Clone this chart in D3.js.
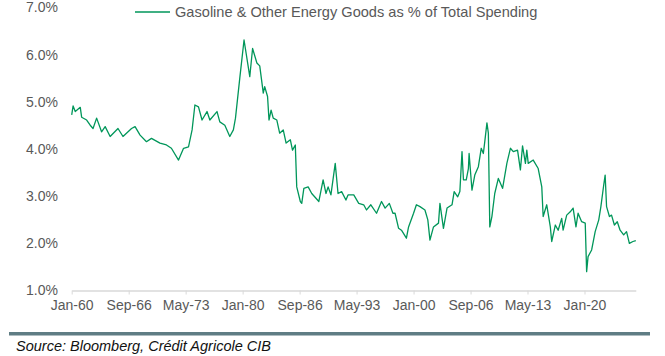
<!DOCTYPE html>
<html>
<head>
<meta charset="utf-8">
<script src="https://cdn.jsdelivr.net/npm/d3@7"></script>
<style>
  html, body { margin: 0; padding: 0; background: #ffffff; }
  svg { display: block; font-family: "Liberation Sans", Arial, sans-serif; }
</style>
</head>
<body>
<svg id="chart" width="665" height="356"></svg>
<script>
// ---- Data ----
const seriesName = "Gasoline & Other Energy Goods as % of Total Spending";
const sourceText = "Source: Bloomberg, Crédit Agricole CIB";

const dates = [
  "1960-01","1960-03","1960-06","1961-01","1961-03","1961-10","1962-03","1962-07","1962-12","1963-07",
  "1963-12","1964-07","1965-06","1966-01","1967-01","1967-06","1968-01","1968-10","1969-05","1970-05",
  "1971-02","1971-09","1972-07","1973-02","1973-09","1974-02","1974-06","1974-11","1975-04","1975-11",
  "1976-03","1977-01","1977-05","1977-12","1978-07","1978-12","1979-03","1979-09","1980-03","1980-11",
  "1981-03","1981-09","1982-01","1982-06","1982-08","1982-12","1983-02","1983-05","1983-08","1984-01",
  "1984-05","1984-10","1985-02","1985-08","1985-11","1986-03","1986-05","1986-10","1986-12","1987-03",
  "1987-09","1988-02","1988-12","1989-06","1989-10","1990-01","1990-05","1990-11","1991-03","1991-08",
  "1992-02","1992-05","1993-01","1993-08","1994-03","1994-07","1995-01","1995-09","1996-04","1996-09",
  "1997-03","1997-08","1997-11","1998-04","1998-08","1999-03","1999-06","2000-01","2000-05","2000-10",
  "2001-05","2001-09","2001-12","2002-05","2002-12","2003-02","2003-07","2003-12","2004-07","2004-10",
  "2005-03","2005-06","2005-09","2005-11","2006-03","2006-06","2006-07","2006-11","2007-03","2007-08",
  "2007-12","2008-03","2008-05","2008-08","2008-10","2008-12","2009-03","2009-07","2009-12","2010-06",
  "2010-12","2011-05","2011-09","2012-03","2012-07","2012-10","2013-02","2013-04","2013-06","2014-01",
  "2014-08","2015-01","2015-03","2015-08","2016-01","2016-03","2016-08","2016-12","2017-05","2017-07",
  "2017-12","2018-05","2018-09","2019-01","2019-04","2019-09","2020-02","2020-04","2020-06","2020-11",
  "2021-04","2021-09","2021-12","2022-04","2022-06","2022-08","2022-12","2023-03","2023-07","2023-11",
  "2024-03","2024-08","2024-12","2025-04","2025-09","2026-01"
];

const values = [
  4.72,4.91,4.79,4.88,4.67,4.61,4.50,4.43,4.65,4.36,
  4.47,4.26,4.43,4.26,4.43,4.47,4.29,4.15,4.22,4.12,
  4.08,4.01,3.76,4.01,4.04,4.40,4.93,4.89,4.61,4.79,
  4.61,4.79,4.57,4.50,4.26,4.40,4.65,5.50,6.31,5.53,
  6.13,5.82,5.76,5.18,5.32,5.11,4.61,4.82,4.65,4.61,
  4.33,4.40,4.12,4.19,3.97,4.08,3.19,2.88,2.84,3.16,
  3.19,3.05,2.88,3.34,3.05,3.19,3.02,3.69,3.05,3.09,
  2.91,3.02,3.02,2.84,2.81,2.70,2.81,2.63,2.88,2.74,
  2.84,2.63,2.63,2.31,2.27,2.10,2.34,2.63,2.81,2.77,
  2.70,2.49,2.06,2.34,2.42,2.84,2.31,2.74,2.81,3.09,
  2.98,3.09,3.94,3.34,3.34,3.58,3.90,3.12,3.44,3.62,
  4.01,3.90,4.15,4.55,4.33,2.34,2.56,3.05,3.37,3.16,
  3.69,4.01,3.94,3.97,3.55,4.06,3.69,3.97,3.69,3.76,
  3.58,3.19,2.56,2.81,2.34,2.03,2.38,2.27,2.52,2.27,
  2.59,2.66,2.74,2.34,2.63,2.45,2.42,1.39,1.71,1.85,
  2.24,2.49,2.77,3.23,3.44,2.77,2.56,2.59,2.38,2.45,
  2.27,2.17,2.24,1.99,2.03,2.05
];

const xTickDates = ["1960-01","1966-09","1973-05","1980-01","1986-09","1993-05","2000-01","2006-09","2013-05","2020-01"];
const xTickLabels = ["Jan-60","Sep-66","May-73","Jan-80","Sep-86","May-93","Jan-00","Sep-06","May-13","Jan-20"];
const yTicks = [1, 2, 3, 4, 5, 6, 7];
const xDomain = ["1960-01", "2026-01"];
const yDomain = [1, 7];

// ---- Rendering ----
const parse = d3.timeParse("%Y-%m");
const data = dates.map((d, i) => ({ date: parse(d), value: values[i] }));

const svg = d3.select("#chart");
const lineColor = "#00965a";
const textColor = "#595959";

const x = d3.scaleTime().domain(xDomain.map(parse)).range([71.7, 635.8]);
const y = d3.scaleLinear().domain(yDomain).range([290, 7.5]);

// X axis
const xAxis = d3.axisBottom(x)
  .tickValues(xTickDates.map(parse))
  .tickFormat((d, i) => xTickLabels[i])
  .tickSizeInner(4)
  .tickSizeOuter(0)
  .tickPadding(6);

const gx = svg.append("g")
  .attr("transform", "translate(0,290.5)")
  .call(xAxis);
gx.select(".domain").attr("stroke", "#d9d9d9").attr("stroke-width", 1.5);
gx.selectAll(".tick line").attr("stroke", "#d9d9d9").attr("stroke-width", 1);
gx.selectAll(".tick text")
  .attr("fill", textColor)
  .style("font-size", "14px")
  .style("font-family", "'Liberation Sans', Arial, sans-serif");

// Y axis (labels only)
const yAxis = d3.axisLeft(y)
  .tickValues(yTicks)
  .tickFormat(d => d3.format(".1f")(d) + "%")
  .tickSize(0)
  .tickPadding(0);

const gy = svg.append("g")
  .attr("transform", "translate(58,0)")
  .call(yAxis);
gy.select(".domain").remove();
gy.selectAll(".tick text")
  .attr("fill", textColor)
  .style("font-size", "14px")
  .style("font-family", "'Liberation Sans', Arial, sans-serif");

// Line
const line = d3.line()
  .x(d => x(d.date))
  .y(d => y(d.value));

svg.append("path")
  .datum(data)
  .attr("fill", "none")
  .attr("stroke", lineColor)
  .attr("stroke-width", 1.3)
  .attr("stroke-linejoin", "round")
  .attr("d", line);

// Legend
const legend = svg.append("g").attr("transform", "translate(135,12)");
legend.append("line")
  .attr("x1", 0).attr("x2", 35).attr("y1", 0).attr("y2", 0)
  .attr("stroke", lineColor).attr("stroke-width", 1.3);
legend.append("text")
  .attr("x", 40).attr("y", 5)
  .attr("fill", textColor)
  .style("font-size", "14.6px")
  .text(seriesName);

// Separator bar and source
svg.append("rect")
  .attr("x", 9).attr("y", 332)
  .attr("width", 641).attr("height", 3.5)
  .attr("fill", "#5f7d84");

svg.append("text")
  .attr("x", 16).attr("y", 351)
  .attr("fill", "#111111")
  .style("font-size", "14.5px")
  .style("font-style", "italic")
  .text(sourceText);
</script>
</body>
</html>
